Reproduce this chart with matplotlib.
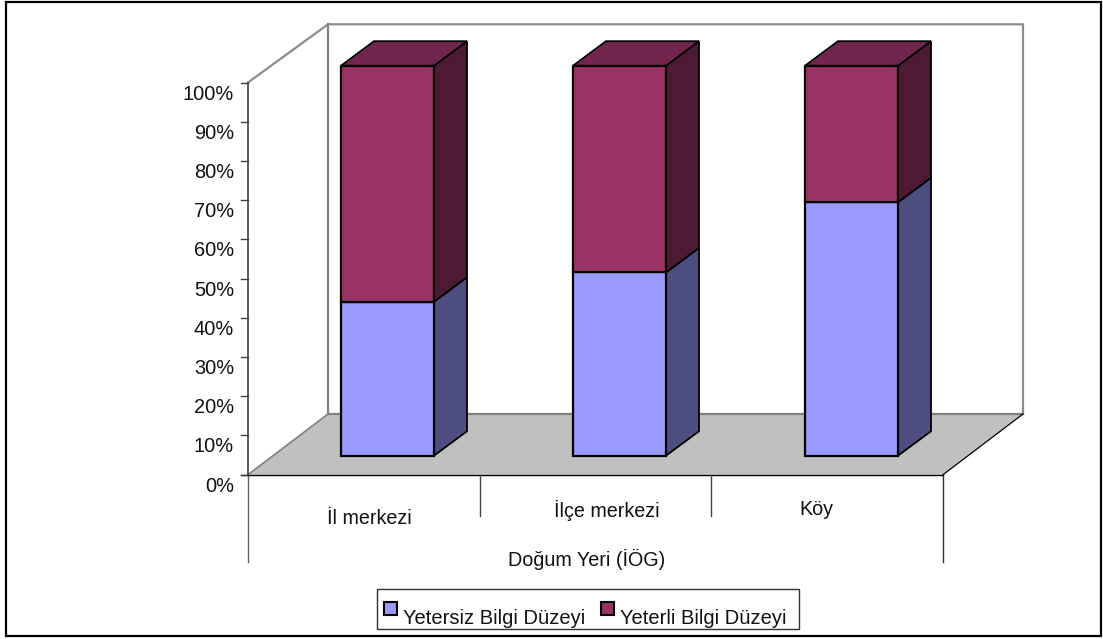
import matplotlib
matplotlib.use("Agg")
import matplotlib.pyplot as plt

plt.rcParams['font.family'] = ['Liberation Sans', 'DejaVu Sans']

categories = ["İl merkezi", "İlçe merkezi", "Köy"]
yetersiz = [39.5, 47, 65]
yeterli = [60.5, 53, 35]
ticks = [0, 10, 20, 30, 40, 50, 60, 70, 80, 90, 100]

W, H = 1103, 639

# layout of the fake 3d box, in pixels
ax_x, ax_y0, ax_y100 = 248, 474.7, 82.5
front_right = 943
back_x, back_right, back_top, back_floor = 328, 1023, 24.3, 414
bar_left, bar_w, bar_step = 341, 93, 232
bar_base, bar_scale = 455.7, 3.9
dx_bar, dy_bar = 33, -24.5

cat_x = [369, 607, 816]
cat_y = [518.5, 510.5, 509.5]

fig = plt.figure(figsize=(W / 100, H / 100), dpi=100)
ax = fig.add_axes([0, 0, 1, 1])
ax.set_xlim(0, W)
ax.set_ylim(H, 0)
ax.axis("off")

# outer frame
ax.add_patch(plt.Rectangle((6, 1.5), 1095, 634.2, fc="white", ec="black", lw=1.6))

# floor and back walls
ax.fill([ax_x, back_x, back_right, front_right],
        [ax_y0, back_floor, back_floor, ax_y0], color="#c0c0c0", lw=0)
ax.plot([ax_x, back_x, back_right, back_right],
        [ax_y100, back_top, back_top, back_floor], color="#8c8c8c", lw=1.6)
ax.plot([back_x, back_x, back_right],
        [back_top, back_floor, back_floor], color="#808080", lw=1.6)
ax.plot([ax_x, back_x], [ax_y0, back_floor], color="#808080", lw=1.2)
ax.plot([front_right, back_right], [ax_y0, back_floor], color="black", lw=0.9)

# value axis
ax.plot([ax_x, ax_x], [ax_y100, ax_y0], color="#404040", lw=1.2)
ax.plot([ax_x, ax_x], [ax_y0, 562], color="#606060", lw=1)
ax.plot([front_right, front_right], [ax_y0, 562], color="#303030", lw=1)
ax.plot([241, front_right], [ax_y0, ax_y0], color="black", lw=1)
for t in ticks:
    y = ax_y0 - (ax_y0 - ax_y100) * t / 100
    ax.plot([241, ax_x], [y, y], color="#404040", lw=1)
    ax.text(234, y + 11.5, "%d%%" % t, ha="right", va="center", fontsize=14.4, color="#111111")

# category dividers and labels
for i in range(1, len(categories)):
    xd = ax_x + (front_right - ax_x) * i / len(categories)
    ax.plot([xd, xd], [ax_y0, 516], color="#404040", lw=1)
for name, x, y in zip(categories, cat_x, cat_y):
    ax.text(x, y, name, ha="center", va="center", fontsize=14.2, color="#111111")
ax.text(587, 559.5, "Doğum Yeri (İÖG)", ha="center", va="center", fontsize=14.2, color="#111111")


def box(x, y_low, y_high, front, side, top=None):
    ax.fill([x + bar_w, x + bar_w + dx_bar, x + bar_w + dx_bar, x + bar_w],
            [y_low, y_low + dy_bar, y_high + dy_bar, y_high], fc=side, ec="black", lw=1.3, zorder=3)
    if top:
        ax.fill([x, x + dx_bar, x + bar_w + dx_bar, x + bar_w],
                [y_high, y_high + dy_bar, y_high + dy_bar, y_high], fc=top, ec="black", lw=1.3, zorder=3)
    ax.fill([x, x + bar_w, x + bar_w, x],
            [y_low, y_low, y_high, y_high], fc=front, ec="black", lw=1.6, zorder=4)


for i in range(len(categories)):
    x = bar_left + bar_step * i
    y_mid = bar_base - yetersiz[i] * bar_scale
    y_top = y_mid - yeterli[i] * bar_scale
    box(x, bar_base, y_mid, "#9999ff", "#4d4d80")
    box(x, y_mid, y_top, "#993366", "#4d1a33", "#73264d")

# legend
ax.add_patch(plt.Rectangle((377, 588.5), 422, 40, fc="white", ec="#303030", lw=1, zorder=5))
ax.add_patch(plt.Rectangle((384, 601.5), 13, 13, fc="#9999ff", ec="black", lw=1.5, zorder=6))
ax.text(403, 619, "Yetersiz Bilgi Düzeyi", ha="left", va="center", fontsize=14.5, color="#111111", zorder=6)
ax.add_patch(plt.Rectangle((601, 601.5), 13, 13, fc="#993366", ec="black", lw=1.5, zorder=6))
ax.text(620, 619, "Yeterli Bilgi Düzeyi", ha="left", va="center", fontsize=14.5, color="#111111", zorder=6)

fig.savefig("out.png", dpi=100)
